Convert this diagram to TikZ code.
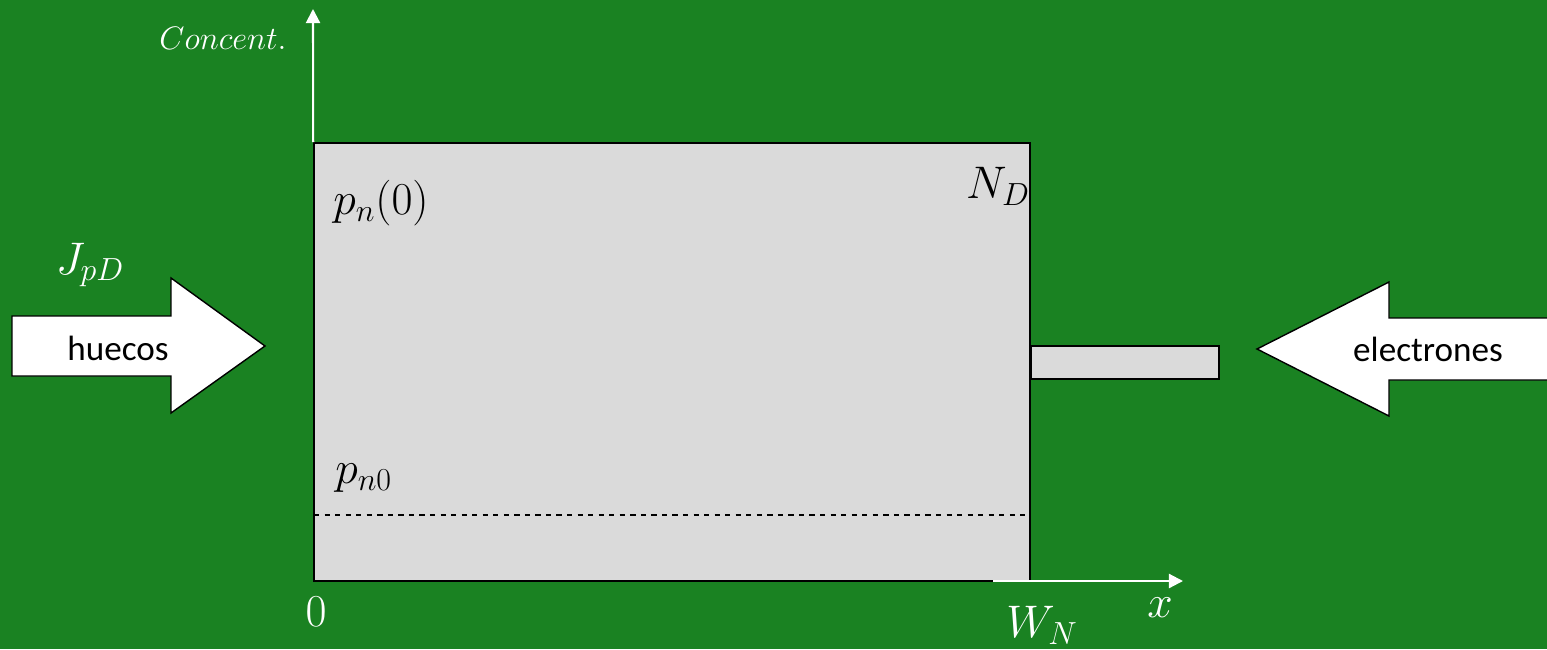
\RequirePackage{fix-cm}
\documentclass[tikz,border=0pt]{standalone}
\usepackage{fontspec}
\setmainfont{Carlito}
\usetikzlibrary{arrows.meta, positioning}
\definecolor{fondo}{RGB}{26,130,34}
\definecolor{relleno}{RGB}{218,218,218}
\tikzset{
  etiqueta/.style={text=white, inner sep=0pt, font=\fontsize{26}{30}\selectfont}, % math labels
  interior/.style={etiqueta, text=black}, % labels inside the region
  flecha/.style={draw=black, fill=white, line width=0.8pt, line join=miter}, % big block arrows
  eje/.style={white, line width=1.2pt, -{Triangle[width=8pt,length=8pt]}}, % axes
}

\begin{document}
\begin{tikzpicture}[x=0.02cm, y=-0.02cm]
    \fill[fondo] (0,0) rectangle (1547,649);
    \useasboundingbox (0,0) rectangle (1547,649);

    % semiconductor region and contact
    \node[draw=black, fill=relleno, line width=1pt, minimum width=14.32cm,
      minimum height=8.76cm, inner sep=0pt] (region) at (672,362) {};
    \node[draw=black, fill=relleno, line width=1pt, minimum width=3.76cm,
      minimum height=0.66cm, inner sep=0pt] (contacto) at (1125,362.5) {};
    \draw[dashed, line width=0.6pt] (314,515) -- (1025,515);

    % axes
    \coordinate (ytop) at (313,9);
    \coordinate (xini) at (993,581);
    \coordinate (xfin) at (1183,581);
    \draw[eje] (region.north west) -- (ytop);
    \draw[eje] (xini) -- (xfin);

    % block arrows
    \draw[flecha] (12,316) -- (171,316) -- (171,278) -- (265,346) -- (171,413)
      -- (171,376) -- (12,376) -- cycle;
    \draw[flecha] (1570,318) -- (1389,318) -- (1389,282) -- (1257,349) -- (1389,416)
      -- (1389,380) -- (1570,380);
    \node[font=\fontsize{20}{24}\selectfont] (huecos) at (118,348) {huecos};
    \node[font=\fontsize{20}{24}\selectfont] (electrones) at (1428,349) {electrones};

    % labels
    \node[etiqueta, anchor=east, font=\fontsize{18.5}{22}\selectfont] (conc) at (287,38) {$Concent.$};
    \node[interior, anchor=west] (pn0) at (333,203) {$p_n(0)$};
    \node[interior] (nd) at (998,186) {$N_D$};
    \node[etiqueta] (jpd) at (90,265) {$J_{pD}$};
    \node[interior, anchor=west] (pneq) at (335,478) {$p_{n0}$};
    \node[etiqueta] (cero) at (316,612) {$0$};
    \node[etiqueta] (wn) at (1042,625) {$W_N$};
    \node[etiqueta] (xlbl) at (1160,608) {$x$};
\end{tikzpicture}
\end{document}
